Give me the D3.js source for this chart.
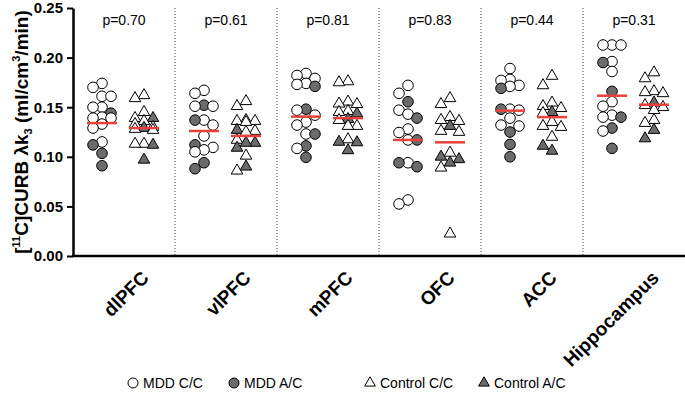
<!DOCTYPE html>
<html>
<head>
<meta charset="utf-8">
<script src="https://cdn.jsdelivr.net/npm/d3@7"></script>
<style>
  body { margin: 0; background: #fff; }
  svg { font-family: "Liberation Sans", Arial, sans-serif; }
</style>
</head>
<body>
<svg id="chart"></svg>
<script>
// regions and p-values
const regions = ["dlPFC", "vlPFC", "mPFC", "OFC", "ACC", "Hippocampus"];
const pLabels = ["p=0.70", "p=0.61", "p=0.81", "p=0.83", "p=0.44", "p=0.31"];
const yTicks = [0, 0.05, 0.10, 0.15, 0.20, 0.25];

// MDD C/C (open circles), per region
const mddCC = [
    [0.174, 0.170, 0.161, 0.161, 0.150, 0.150, 0.140, 0.139, 0.139, 0.133, 0.129, 0.115],
    [0.167, 0.164, 0.151, 0.151, 0.137, 0.132, 0.121, 0.1095, 0.107, 0.105],
    [0.184, 0.182, 0.179, 0.174, 0.173, 0.147, 0.142, 0.135, 0.132, 0.123, 0.1085],
    [0.172, 0.164, 0.147, 0.143, 0.128, 0.1245, 0.117, 0.094, 0.0565, 0.0525],
    [0.189, 0.178, 0.177, 0.172, 0.171, 0.148, 0.147, 0.139, 0.132, 0.131],
    [0.2127, 0.2127, 0.2127, 0.196, 0.186, 0.1555, 0.151, 0.142, 0.140, 0.126]
];
// MDD A/C (filled circles)
const mddAC = [
    [0.144, 0.112, 0.1035, 0.091],
    [0.152, 0.137, 0.112, 0.094, 0.088],
    [0.171, 0.148, 0.123, 0.111, 0.0995],
    [0.1555, 0.139, 0.117, 0.094, 0.090],
    [0.169, 0.148, 0.125, 0.1125, 0.100],
    [0.195, 0.166, 0.140, 0.129, 0.1085]
];
// Control C/C (open triangles)
const ctrlCC = [
    [0.163, 0.160, 0.146, 0.140, 0.137, 0.134, 0.131, 0.129, 0.128, 0.114, 0.114],
    [0.157, 0.152, 0.138, 0.137, 0.137, 0.136, 0.127, 0.126, 0.118, 0.102, 0.087],
    [0.177, 0.176, 0.1565, 0.1545, 0.154, 0.147, 0.146, 0.138, 0.132, 0.132, 0.1185],
    [0.160, 0.154, 0.141, 0.138, 0.137, 0.127, 0.126, 0.105, 0.090, 0.0235],
    [0.1825, 0.173, 0.1555, 0.152, 0.150, 0.145, 0.136, 0.132, 0.131, 0.121],
    [0.186, 0.180, 0.167, 0.166, 0.165, 0.153, 0.151, 0.148, 0.138, 0.135]
];
// Control A/C (filled triangles)
const ctrlAC = [
    [0.140, 0.130, 0.113, 0.098],
    [0.128, 0.115, 0.115, 0.110, 0.091],
    [0.1445, 0.139, 0.116, 0.1155, 0.1075],
    [0.132, 0.101, 0.0985, 0.095],
    [0.146, 0.112, 0.107],
    [0.1555, 0.128, 0.1195]
];
// group means (red lines)
const meanMDD = [0.134, 0.126, 0.1405, 0.117, 0.1465, 0.1616];
const meanCtrl = [0.129, 0.121, 0.139, 0.1146, 0.140, 0.1525];

const width = 685, height = 396;
const margin = { top: 8, right: 0, bottom: 140, left: 73 };

const svg = d3.select("#chart").attr("width", width).attr("height", height);

const x = d3.scaleBand()
    .domain(regions)
    .range([margin.left, width - margin.right]);

const y = d3.scaleLinear()
    .domain([0, 0.25])
    .range([height - margin.bottom, margin.top]);

const grey = "#6b6b6b";
const red = "#e8413c";
const mddShift = -22, ctrlShift = 20;

// dotted separators between regions
svg.append("g")
    .selectAll("line")
    .data(regions.slice(1))
    .join("line")
    .attr("x1", d => x(d)).attr("x2", d => x(d))
    .attr("y1", y(0.25)).attr("y2", y(0))
    .attr("stroke", "#444")
    .attr("stroke-width", 1)
    .attr("stroke-dasharray", "1,2");

// beeswarm in three columns, 9px apart; overlaps allowed when crowded
function swarm(points) {
    const placed = [];
    const offsets = [0, -9, 9];
    const gap = (o, py) => d3.min(placed, q => Math.hypot(q.dx - o, q.py - py)) ?? Infinity;
    points.sort((a, b) => b.v - a.v).forEach(p => {
        const py = y(p.v);
        let off = offsets.find(o => gap(o, py) >= 9.5);
        if (off === undefined) off = d3.greatest(offsets, o => gap(o, py));
        placed.push({ ...p, dx: off, py: py });
    });
    return placed;
}

const tri = d3.symbol().type(d3.symbolTriangle).size(58);

regions.forEach((r, i) => {
    const cx = x(r) + x.bandwidth() / 2;
    const g = svg.append("g");

    const mdd = swarm(mddCC[i].map(v => ({ v, f: false })).concat(mddAC[i].map(v => ({ v, f: true }))));
    g.selectAll("circle")
        .data(mdd)
        .join("circle")
        .attr("cx", d => cx + mddShift + d.dx)
        .attr("cy", d => d.py)
        .attr("r", 5.3)
        .attr("fill", d => d.f ? grey : "#fff")
        .attr("stroke", "#000")
        .attr("stroke-width", 1);

    const ctrl = swarm(ctrlCC[i].map(v => ({ v, f: false })).concat(ctrlAC[i].map(v => ({ v, f: true }))));
    g.selectAll("path.tri")
        .data(ctrl)
        .join("path")
        .attr("class", "tri")
        .attr("d", tri)
        .attr("transform", d => `translate(${cx + ctrlShift + d.dx},${d.py + 1})`)
        .attr("fill", d => d.f ? grey : "#fff")
        .attr("stroke", "#000")
        .attr("stroke-width", 1);

    // mean lines
    g.append("line")
        .attr("x1", cx + mddShift - 15).attr("x2", cx + mddShift + 15)
        .attr("y1", y(meanMDD[i])).attr("y2", y(meanMDD[i]))
        .attr("stroke", red).attr("stroke-width", 2.5);
    g.append("line")
        .attr("x1", cx + ctrlShift - 15).attr("x2", cx + ctrlShift + 15)
        .attr("y1", y(meanCtrl[i])).attr("y2", y(meanCtrl[i]))
        .attr("stroke", red).attr("stroke-width", 2.5);

    g.append("text")
        .attr("x", cx).attr("y", 25)
        .attr("text-anchor", "middle")
        .attr("font-size", "14px")
        .text(pLabels[i]);
});

// y axis
const yAxisG = svg.append("g")
    .attr("transform", `translate(${margin.left},0)`)
    .call(d3.axisLeft(y).tickValues(yTicks).tickFormat(d3.format(".2f")).tickSize(6).tickSizeOuter(0).tickPadding(4));
yAxisG.select(".domain").attr("stroke-width", 2.5);
yAxisG.selectAll(".tick line").attr("stroke-width", 2);
yAxisG.selectAll(".tick text")
    .attr("font-size", "15px")
    .attr("font-weight", "bold")
    .attr("font-family", "'Liberation Sans', Arial, sans-serif")
    .attr("fill", "#000");

// x axis
const xAxisG = svg.append("g")
    .attr("transform", `translate(0,${y(0)})`)
    .call(d3.axisBottom(x).tickSize(0).tickSizeOuter(0).tickFormat(""));
xAxisG.select(".domain").attr("stroke-width", 2.5).attr("d", `M${margin.left - 1},0H${width}`);

svg.append("g")
    .selectAll("text")
    .data(regions)
    .join("text")
    .attr("transform", d => `translate(${x(d) + x.bandwidth() / 2 + 26},279) rotate(-45)`)
    .attr("text-anchor", "end")
    .attr("font-size", "19px")
    .attr("font-weight", "bold")
    .text(d => d);

// y title
const yTitle = svg.append("text")
    .attr("transform", `translate(28,${(y(0) + y(0.25)) / 2}) rotate(-90)`)
    .attr("text-anchor", "middle")
    .attr("font-size", "19px")
    .attr("font-weight", "bold");
yTitle.append("tspan").text("[");
yTitle.append("tspan").attr("font-size", "11px").attr("dy", -8).text("11");
yTitle.append("tspan").attr("dy", 8).text("C]CURB λk");
yTitle.append("tspan").attr("font-size", "11px").attr("dy", 4).text("3");
yTitle.append("tspan").attr("dy", -4).text(" (ml/cm");
yTitle.append("tspan").attr("font-size", "11px").attr("dy", -8).text("3");
yTitle.append("tspan").attr("dy", 8).text("/min)");

// legend
const legendItems = [
    { label: "MDD C/C", shape: "circle", f: false, x: 133 },
    { label: "MDD A/C", shape: "circle", f: true, x: 234 },
    { label: "Control C/C", shape: "tri", f: false, x: 370 },
    { label: "Control A/C", shape: "tri", f: true, x: 484 }
];
const legend = svg.append("g")
    .selectAll("g")
    .data(legendItems)
    .join("g")
    .attr("transform", d => `translate(${d.x},383)`);
legend.filter(d => d.shape === "circle")
    .append("circle")
    .attr("r", 5)
    .attr("fill", d => d.f ? grey : "#fff")
    .attr("stroke", "#000");
legend.filter(d => d.shape === "tri")
    .append("path")
    .attr("d", d3.symbol().type(d3.symbolTriangle).size(50))
    .attr("fill", d => d.f ? grey : "#fff")
    .attr("stroke", "#000");
legend.append("text")
    .attr("x", 10)
    .attr("y", 5)
    .attr("font-size", "14px")
    .text(d => d.label);
</script>
</body>
</html>
